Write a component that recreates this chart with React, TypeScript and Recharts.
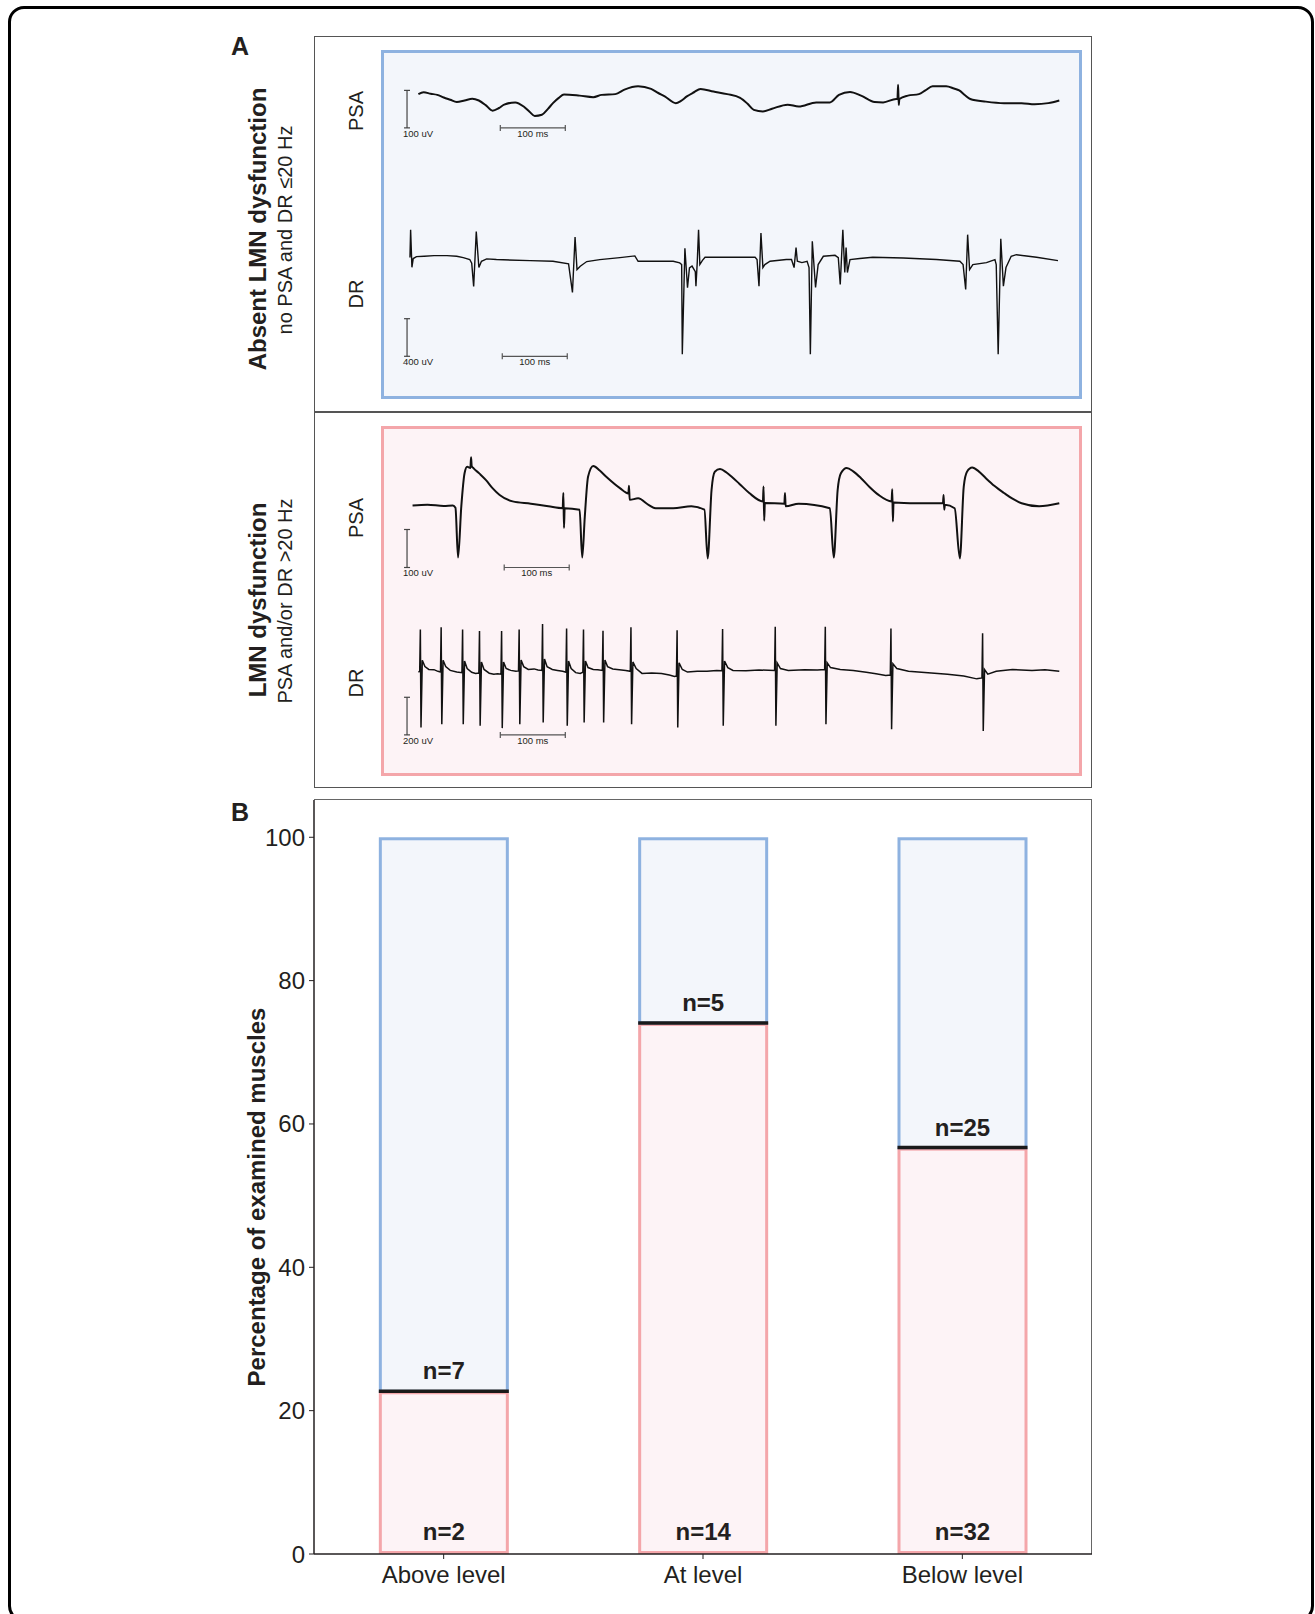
import React from 'react';
import { LineChart, Line, XAxis, YAxis, ReferenceLine, BarChart, Bar } from 'recharts';

const FONT = '"Liberation Sans", Arial, Helvetica, sans-serif';
const INK = '#231f20';
const BLUE_EDGE = '#8eb2e0';
const BLUE_FILL = '#f3f6fb';
const PINK_EDGE = '#f4a6aa';
const PINK_FILL = '#fdf3f6';

// Panel A traces: [time ms, amplitude uV]
const psaAbsent: [number, number][] = [
  [36, 15], [44, 20], [55, 16], [65, 13], [75, 6], [85, 0], [95, -6], [107, -2], [119, 3], [129, -2],
  [140, -15], [150, -29], [160, -22], [168, -13], [185, -7], [198, -18], [207, -32], [215, -43], [226, -40],
  [235, -25], [243, -9], [252, 5], [260, 14], [284, 11], [305, 7], [318, 13], [339, 15], [353, 27], [374, 36],
  [394, 29], [405, 18], [415, 9], [432, -9], [440, -3], [449, 9], [460, 20], [470, 29], [490, 22], [511, 15],
  [531, 5], [542, -10], [552, -27], [566, -31], [580, -24], [604, -13], [621, -18], [648, -7], [669, -7],
  [683, 13], [700, 21], [717, 11], [738, -6], [751, -7], [771, 2], [773, 2], [774, 40], [775, -14], [776, 2],
  [789, 11], [806, 15], [816, 25], [827, 36], [848, 36], [860, 30], [868, 25], [877, 12], [885, 2], [909, -5],
  [937, -9], [964, -9], [984, -12], [1005, -9], [1022, -2],
];

const drAbsent: [number, number][] = [
  [23, 0], [24, 297], [26, -103], [28, -10], [33, 10], [45, 15], [60, 21], [80, 21], [95, 14], [105, 0],
  [115, -20], [118, -60], [121, -307], [125, 276], [129, -106], [133, -39], [141, -14], [156, -21], [208, -32],
  [243, -39], [267, -67], [273, -371], [277, 219], [280, -127], [285, -92], [295, -42], [315, -21], [346, 0],
  [369, 18], [374, -39], [387, -39], [428, -39], [438, -56], [441, -74], [442, -1028], [446, 100], [450, -321],
  [453, -110], [457, -90], [462, -150], [463, -304], [465, -50], [467, 297], [469, -74], [473, -30], [477, 3],
  [500, 3], [554, 3], [557, -20], [560, -304], [563, 262], [566, -106], [569, -74], [577, -39], [602, -21],
  [610, -21], [614, -106], [617, 106], [619, -39], [626, -53], [634, -39], [637, -106], [639, -1028], [642, 173],
  [647, -318], [651, -74], [659, 14], [677, 24], [682, 0], [685, -286], [689, 297], [692, -159], [694, 106],
  [696, -159], [700, -21], [715, -10], [735, 3], [782, -4], [833, -21], [869, -39], [874, -74], [878, -339],
  [881, 244], [884, -127], [889, -74], [910, -53], [923, -21], [925, -74], [928, -1028], [932, 201], [936, -304],
  [940, -106], [948, 14], [956, 31], [987, 3], [1020, -32],
];

const psaLmn: [number, number][] = [
  [27, -2], [50, 0], [75, -3], [89, -2], [93, -8], [97, -139], [102, -4], [107, 83], [111, 100], [116, 97],
  [117, 125], [118, 102], [121, 96], [130, 82], [140, 65], [150, 44], [161, 26], [181, 9], [209, 3], [236, -4],
  [258, -9], [259, 31], [260, -61], [261, -9], [284, -13], [288, -139], [292, -31], [297, 74], [305, 102],
  [315, 90], [325, 74], [346, 44], [359, 30], [360, 50], [361, 13], [374, 17], [390, 0], [401, -9], [428, -9],
  [456, -4], [476, -13], [481, -141], [487, 39], [492, 87], [500, 94], [510, 85], [518, 74], [530, 55],
  [545, 31], [566, 9], [567, 48], [568, -42], [569, 5], [599, 3], [600, 31], [601, -4], [621, 3], [669, -9],
  [675, -139], [681, 39], [686, 83], [695, 97], [705, 88], [717, 70], [730, 47], [744, 26], [764, 9], [765, 41],
  [766, -44], [767, 6], [799, 4], [843, 4], [844, 26], [845, -13], [846, 0], [861, -9], [869, -141], [875, 48],
  [880, 87], [888, 98], [898, 88], [909, 70], [922, 50], [937, 31], [950, 16], [964, 4], [991, -4], [1022, 4],
];

const drLmn: [number, number][] = [
  [36, -9], [38, -5], [39, 218], [40, -304], [42, 54], [46, 20], [52, 5], [60, 4], [66, -5], [70, -9],
  [71, 229], [72, -286], [74, 54], [78, 20], [85, 0], [95, -9], [103, -12],
  [104, 218], [105, -286], [107, 50], [111, 10], [118, -10], [124, -16], [129, -14],
  [130, 209], [131, -295], [133, 45], [137, 5], [145, -15], [152, -20], [158, -18], [163, -20],
  [164, 209], [165, -307], [167, 45], [171, 10], [178, 0], [186, -5], [190, -3],
  [191, 218], [192, -286], [194, 55], [198, 20], [205, 5], [214, 8], [220, 2], [226, 0],
  [227, 247], [228, -277], [230, 60], [234, 20], [242, 5], [250, 0], [258, -5], [263, -10],
  [264, 223], [265, -295], [267, 50], [271, 10], [278, -12], [285, -16], [289, -10],
  [290, 218], [291, -277], [293, 50], [297, 15], [305, 5], [312, 4], [319, 0],
  [320, 211], [321, -277], [323, 55], [327, 20], [335, 8], [345, 4], [355, 0], [362, -5],
  [363, 229], [364, -286], [366, 45], [371, 10], [380, -16], [395, -14], [410, -16], [422, -25], [430, -32], [433, -30],
  [434, 214], [435, -304], [437, 40], [442, 5], [450, -9], [465, -4], [480, -4], [495, 0], [503, -2],
  [504, 220], [505, -295], [507, 50], [512, 15], [520, 0], [540, -2], [560, 2], [584, 0],
  [585, 232], [586, -295], [588, 40], [593, 10], [605, 0], [630, 4], [650, 2], [661, 5],
  [662, 232], [663, -286], [665, 40], [670, 15], [685, 5], [705, 0], [725, -10], [740, -18], [755, -27], [762, -25],
  [763, 223], [764, -313], [766, 35], [772, 10], [790, -5], [820, -12], [850, -20], [875, -30], [895, -45], [903, -40],
  [904, 197], [905, -322], [907, 5], [912, -20], [925, -5], [950, 5], [980, 0], [1000, 3], [1022, -5],
];

// Panel B
const levels = ['Above level', 'At level', 'Below level'];
const lmnPct = [22.7, 74.1, 56.7];
const absentPct = [77.3, 25.9, 43.3];
const lmnN = ['n=2', 'n=14', 'n=32'];
const absentN = ['n=7', 'n=5', 'n=25'];
const pctTicks = [0, 20, 40, 60, 80, 100];

const MS_PX = 0.65;
const T_MAX = 1040;
const TRACE_LEFT = 395;
const TRACE_W = T_MAX * MS_PX;

const vBar = (label: string) => (p: any) => {
  const { x1, y1, y2 } = p;
  const yb = Math.max(y1, y2);
  const yt = Math.min(y1, y2);
  return (
    <g>
      <line x1={x1} y1={yt} x2={x1} y2={yb} stroke="#444" strokeWidth={1.2} />
      <line x1={x1 - 3} y1={yt} x2={x1 + 3} y2={yt} stroke="#444" strokeWidth={1.2} />
      <line x1={x1 - 3} y1={yb} x2={x1 + 3} y2={yb} stroke="#444" strokeWidth={1.2} />
      <text x={x1 - 4} y={yb + 9} fontSize={9.5} fill={INK} fontFamily={FONT}>{label}</text>
    </g>
  );
};

const hBar = (label: string) => (p: any) => {
  const { x1, x2, y1 } = p;
  return (
    <g>
      <line x1={x1} y1={y1} x2={x2} y2={y1} stroke="#555" strokeWidth={1.2} />
      <line x1={x1} y1={y1 - 3} x2={x1} y2={y1 + 3} stroke="#555" strokeWidth={1.2} />
      <line x1={x2} y1={y1 - 3} x2={x2} y2={y1 + 3} stroke="#555" strokeWidth={1.2} />
      <text x={(x1 + x2) / 2} y={y1 + 9} fontSize={9.5} fill={INK} fontFamily={FONT} textAnchor="middle">{label}</text>
    </g>
  );
};

interface TraceProps {
  data: [number, number][];
  baseline: number;
  pxPerUnit: number;
  domain: [number, number];
  barAt: number; // amplitude of scale bar foot
  barSize: number;
  barLabel: string;
  msStart: number;
  curve: 'monotone' | 'linear';
  width: number;
}

function Trace({ data, baseline, pxPerUnit, domain, barAt, barSize, barLabel, msStart, curve, width }: TraceProps) {
  const [lo, hi] = domain;
  const top = baseline - hi * pxPerUnit;
  const height = (hi - lo) * pxPerUnit;
  const rows = data.map(([t, v]) => ({ t, v }));
  return (
    <div style={{ position: 'absolute', left: TRACE_LEFT, top, width: TRACE_W, height }}>
      <LineChart width={TRACE_W} height={height} data={rows} margin={{ top: 0, right: 0, bottom: 0, left: 0 }}>
        <XAxis type="number" dataKey="t" domain={[0, T_MAX]} hide />
        <YAxis type="number" domain={domain} hide />
        <ReferenceLine segment={[{ x: 18.5, y: barAt }, { x: 18.5, y: barAt + barSize }]} shape={vBar(barLabel)} />
        <ReferenceLine segment={[{ x: msStart, y: barAt }, { x: msStart + 100, y: barAt }]} shape={hBar('100 ms')} />
        <Line type={curve} dataKey="v" stroke="#111" strokeWidth={width} dot={false} isAnimationActive={false} />
      </LineChart>
    </div>
  );
}

function VText({ x, y, size, bold, children }: { x: number; y: number; size: number; bold?: boolean; children: React.ReactNode }) {
  return (
    <div
      style={{
        position: 'absolute', left: x, top: y, transform: 'translate(-50%, -50%) rotate(-90deg)',
        whiteSpace: 'nowrap', fontSize: size, fontWeight: bold ? 700 : 400, lineHeight: 1, color: INK,
      }}
    >
      {children}
    </div>
  );
}

const pinkShape = (p: any) => (
  <g>
    <rect x={p.x + 1.5} y={p.y + 1.5} width={p.width - 3} height={p.height - 3} fill={PINK_FILL} stroke={PINK_EDGE} strokeWidth={3} />
    <text x={p.x + p.width / 2} y={p.y + p.height - 14} textAnchor="middle" fontSize={24} fontWeight={700} fill={INK} fontFamily={FONT}>
      {p.payload.lmnN}
    </text>
  </g>
);

const blueShape = (p: any) => {
  const bottom = p.y + p.height;
  return (
    <g>
      <rect x={p.x + 1.5} y={p.y + 1.5} width={p.width - 3} height={p.height - 1.5} fill={BLUE_FILL} stroke={BLUE_EDGE} strokeWidth={3} />
      <line x1={p.x} y1={bottom} x2={p.x + p.width} y2={bottom} stroke="#1a1a1a" strokeWidth={3.5} />
      <text x={p.x + p.width / 2} y={bottom - 12} textAnchor="middle" fontSize={24} fontWeight={700} fill={INK} fontFamily={FONT}>
        {p.payload.absentN}
      </text>
    </g>
  );
};

export default function App() {
  const barRows = levels.map((level, i) => ({
    level, lmn: lmnPct[i], absent: absentPct[i], lmnN: lmnN[i], absentN: absentN[i],
  }));

  return (
    <div style={{ position: 'absolute', left: 0, top: 0, width: 1315, height: 1614, overflow: 'hidden', background: '#fff', fontFamily: FONT, color: INK }}>
      <div style={{ position: 'absolute', left: 8, top: 6, width: 1306, height: 1616, border: '3px solid #000', borderRadius: 16, boxSizing: 'border-box' }} />

      {/* Panel A */}
      <div style={{ position: 'absolute', left: 231, top: 34, fontSize: 25, fontWeight: 700, lineHeight: 1 }}>A</div>
      <div style={{ position: 'absolute', left: 314, top: 36, width: 778, height: 752, border: '1.5px solid #555', boxSizing: 'border-box' }} />
      <div style={{ position: 'absolute', left: 314, top: 411, width: 778, height: 1.5, background: '#555' }} />
      <div style={{ position: 'absolute', left: 381, top: 50, width: 701, height: 349, border: `3.5px solid ${BLUE_EDGE}`, background: BLUE_FILL, boxSizing: 'border-box' }} />
      <div style={{ position: 'absolute', left: 381, top: 426, width: 701, height: 350, border: `3.5px solid ${PINK_EDGE}`, background: PINK_FILL, boxSizing: 'border-box' }} />

      <VText x={258} y={229} size={24} bold>Absent LMN dysfunction</VText>
      <VText x={285} y={230} size={20}>no PSA and DR ≤20 Hz</VText>
      <VText x={258} y={600} size={24} bold>LMN dysfunction</VText>
      <VText x={285} y={601} size={20}>PSA and/or DR &gt;20 Hz</VText>

      <VText x={356} y={111} size={20}>PSA</VText>
      <VText x={356} y={294} size={20}>DR</VText>
      <VText x={356} y={518} size={20}>PSA</VText>
      <VText x={356} y={683} size={20}>DR</VText>

      <Trace data={psaAbsent} baseline={100} pxPerUnit={0.375} domain={[-120, 90]} barAt={-75} barSize={100} barLabel="100 uV" msStart={162} curve="monotone" width={2} />
      <Trace data={drAbsent} baseline={258} pxPerUnit={0.094} domain={[-1200, 400]} barAt={-1050} barSize={400} barLabel="400 uV" msStart={165} curve="linear" width={1.4} />
      <Trace data={psaLmn} baseline={505} pxPerUnit={0.38} domain={[-200, 160]} barAt={-165} barSize={100} barLabel="100 uV" msStart={168} curve="monotone" width={2} />
      <Trace data={drLmn} baseline={670} pxPerUnit={0.188} domain={[-420, 300]} barAt={-343} barSize={200} barLabel="200 uV" msStart={162} curve="linear" width={1.5} />

      {/* Panel B */}
      <div style={{ position: 'absolute', left: 231, top: 800, fontSize: 25, fontWeight: 700, lineHeight: 1 }}>B</div>
      <div style={{ position: 'absolute', left: 314, top: 799, width: 778, height: 755, borderTop: '1.5px solid #666', borderRight: '1.5px solid #666', boxSizing: 'border-box' }} />
      <VText x={257} y={1197} size={24} bold>Percentage of examined muscles</VText>
      <div style={{ position: 'absolute', left: 200, top: 790 }}>
        <BarChart width={902} height={824} data={barRows} margin={{ top: 10, right: 10, bottom: 0, left: 0 }} barCategoryGap="25%">
          <XAxis
            dataKey="level" height={60} tickSize={5} tickMargin={7}
            axisLine={{ stroke: INK, strokeWidth: 1.5 }} tickLine={{ stroke: INK }}
            tick={{ fill: INK, fontSize: 24, fontFamily: FONT }}
          />
          <YAxis
            type="number" width={114} domain={[0, 105.2]} ticks={pctTicks} tickSize={5} tickMargin={4}
            axisLine={{ stroke: INK, strokeWidth: 1.5 }} tickLine={{ stroke: INK }}
            tick={{ fill: INK, fontSize: 24, fontFamily: FONT }}
          />
          <Bar dataKey="lmn" stackId="s" shape={pinkShape} isAnimationActive={false} />
          <Bar dataKey="absent" stackId="s" shape={blueShape} isAnimationActive={false} />
        </BarChart>
      </div>
    </div>
  );
}
